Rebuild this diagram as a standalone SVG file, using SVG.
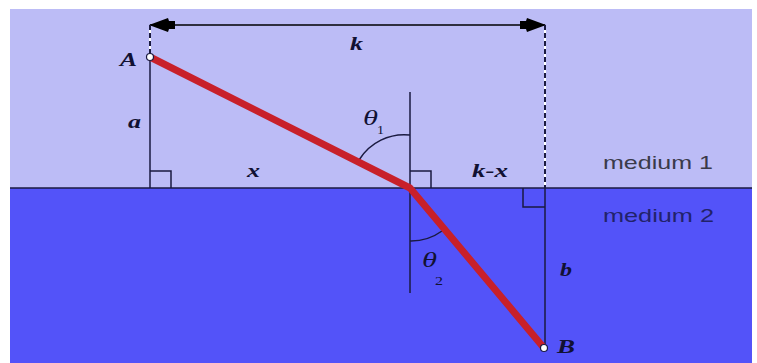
<svg xmlns="http://www.w3.org/2000/svg" width="757" height="363" viewBox="0 0 757 363">
  <style>
    .thin { stroke: #1a1a40; stroke-width: 1.5; fill: none; }
    .dash { stroke: #1a1a40; stroke-width: 2; stroke-dasharray: 5 3; fill: none; }
    .lbl { font-family: "Liberation Serif", "Times New Roman", serif; font-style: italic; font-weight: bold; font-size: 18px; fill: #111133; }
    .th { font-family: "Liberation Serif", "Times New Roman", serif; font-style: italic; font-size: 21px; fill: #111133; }
    .sub { font-family: "Liberation Serif", "Times New Roman", serif; font-size: 13px; fill: #111133; }
    .med { font-family: "Liberation Sans", Arial, sans-serif; font-size: 19px; }
    .pt { fill: #ffffff; stroke: #1a1a40; stroke-width: 1.2; }
  </style>
  <defs>
    <marker id="arr" viewBox="0 0 26 14" refX="25" refY="7" markerWidth="26" markerHeight="14" markerUnits="userSpaceOnUse" orient="auto-start-reverse">
      <path d="M0,3 L6,3 L7,0 L26,7 L7,14 L6,11 L0,11 Z" fill="#000000"/>
    </marker>
  </defs>
  <rect x="0" y="0" width="757" height="363" fill="#ffffff"/>
  <g id="medium1">
    <rect x="10" y="9" width="742" height="179" fill="#bcbcf6"/>
    <text class="med" x="603" y="169" fill="#3a3a4a" textLength="110" lengthAdjust="spacingAndGlyphs">medium 1</text>
  </g>
  <g id="medium2">
    <rect x="10" y="188" width="742" height="175" fill="#5353f9"/>
    <text class="med" x="603" y="222" fill="#22226a" textLength="111" lengthAdjust="spacingAndGlyphs">medium 2</text>
  </g>
  <g id="connectors">
    <line x1="10" y1="188" x2="752" y2="188" stroke="#1a1a40" stroke-width="1.5"/>
    <line x1="150" y1="25" x2="545" y2="25" stroke="#000" stroke-width="1.5" marker-start="url(#arr)" marker-end="url(#arr)"/>
    <line x1="150" y1="25" x2="150" y2="57" stroke="#ffffff" stroke-width="2"/>
    <line x1="150" y1="25" x2="150" y2="57" class="dash"/>
    <line x1="545" y1="25" x2="545" y2="188" stroke="#ffffff" stroke-width="2"/>
    <line x1="545" y1="25" x2="545" y2="188" class="dash"/>
    <line x1="150" y1="57" x2="150" y2="188" class="thin"/>
    <line x1="545" y1="188" x2="545" y2="348" class="thin"/>
    <line x1="410" y1="92" x2="410" y2="293" class="thin"/>
    <path class="thin" d="M150,171 H171 V188"/>
    <path class="thin" d="M410,171 H431 V188"/>
    <path class="thin" d="M545,207 H523 V188"/>
    <path class="thin" stroke-width="1.2" d="M410,135 A53,53 0 0 0 359,160"/>
    <path class="thin" stroke-width="1.2" d="M410,241 A53,53 0 0 0 442,231"/>
    <polyline points="150,57 410,188 544,348" fill="none" stroke="#c8202a" stroke-width="7" stroke-linejoin="round"/>
  </g>
  <g id="A">
    <circle class="pt" cx="150" cy="57" r="3.5"/>
    <text class="lbl" x="120" y="66" textLength="17" lengthAdjust="spacingAndGlyphs">A</text>
  </g>
  <g id="B">
    <circle class="pt" cx="544" cy="348" r="3.5"/>
    <text class="lbl" x="557" y="353" textLength="18" lengthAdjust="spacingAndGlyphs">B</text>
  </g>
  <g id="labels">
    <text class="lbl" x="350" y="50" textLength="13" lengthAdjust="spacingAndGlyphs">k</text>
    <text class="lbl" x="128" y="128" textLength="13" lengthAdjust="spacingAndGlyphs">a</text>
    <text class="lbl" x="247" y="177" textLength="13" lengthAdjust="spacingAndGlyphs">x</text>
    <text class="lbl" x="472" y="177" textLength="36" lengthAdjust="spacingAndGlyphs">k-x</text>
    <text class="lbl" x="560" y="276" textLength="12" lengthAdjust="spacingAndGlyphs">b</text>
    <text class="th" x="363" y="125" textLength="15" lengthAdjust="spacingAndGlyphs">θ</text>
    <text class="sub" x="377" y="134" textLength="7" lengthAdjust="spacingAndGlyphs">1</text>
    <text class="th" x="422" y="267" textLength="15" lengthAdjust="spacingAndGlyphs">θ</text>
    <text class="sub" x="435" y="285" textLength="8" lengthAdjust="spacingAndGlyphs">2</text>
  </g>
</svg>
